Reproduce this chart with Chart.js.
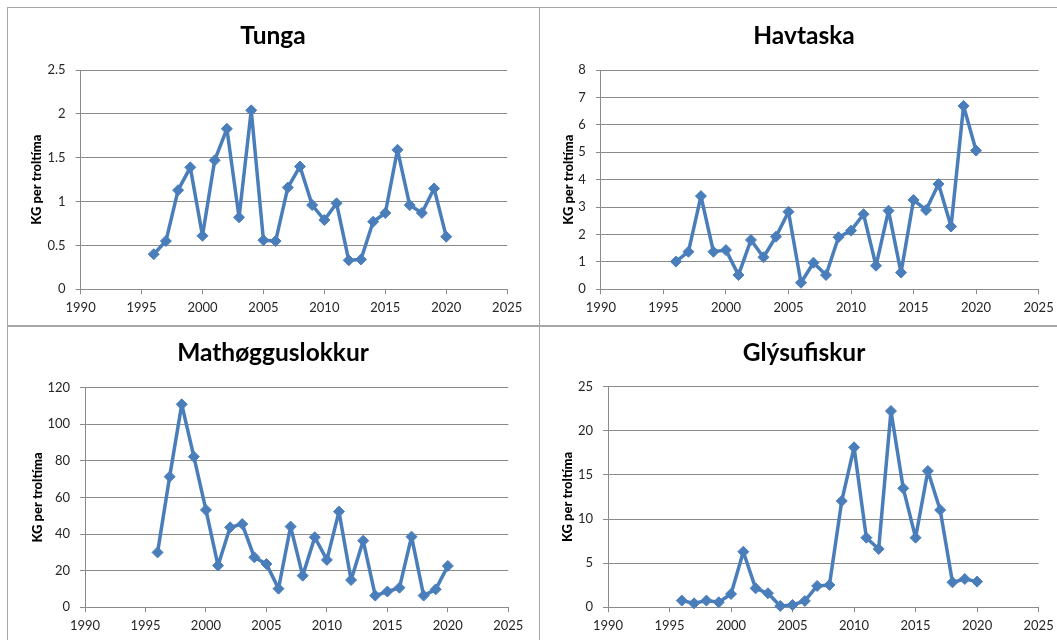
<!DOCTYPE html>
<html>
  <head>
    <meta charset="utf-8">
    <script src="https://cdn.jsdelivr.net/npm/chart.js@4.4.0/dist/chart.umd.min.js"></script>
    <style>
      html, body { margin: 0; padding: 0; background: #fff; overflow: hidden; width: 1057px; height: 640px; }
      .frame { position: absolute; box-sizing: border-box; border: 1.5px solid #a6a6a6; }
      canvas { position: absolute; }
    </style>
  </head>
  <body>
    <div class="frame" style="left:7px; top:7px; width:533px; height:320px;"></div>
    <div class="frame" style="left:539px; top:7px; width:530px; height:320px;"></div>
    <div class="frame" style="left:7px; top:325px; width:533px; height:330px;"></div>
    <div class="frame" style="left:539px; top:325px; width:530px; height:330px;"></div>

    <canvas id="tunga" width="530" height="316" style="left:8px; top:9px;"></canvas>
    <canvas id="havtaska" width="528" height="316" style="left:540px; top:9px;"></canvas>
    <canvas id="mathogg" width="530" height="313" style="left:8px; top:327px;"></canvas>
    <canvas id="glysu" width="528" height="313" style="left:540px; top:327px;"></canvas>

    <script>
      // years on the x axis
      var years = [1996, 1997, 1998, 1999, 2000, 2001, 2002, 2003, 2004, 2005, 2006, 2007, 2008,
                   2009, 2010, 2011, 2012, 2013, 2014, 2015, 2016, 2017, 2018, 2019, 2020];
      var yearTicks = [1990, 1995, 2000, 2005, 2010, 2015, 2020, 2025];

      // KG per troltíma
      var tunga = [0.40, 0.55, 1.13, 1.39, 0.61, 1.47, 1.83, 0.82, 2.04, 0.56, 0.55, 1.16, 1.40,
                   0.96, 0.79, 0.98, 0.33, 0.34, 0.77, 0.87, 1.59, 0.96, 0.87, 1.15, 0.60];
      var havtaska = [1.01, 1.37, 3.40, 1.37, 1.43, 0.52, 1.80, 1.17, 1.92, 2.83, 0.24, 0.97, 0.52,
                      1.90, 2.14, 2.74, 0.86, 2.87, 0.61, 3.26, 2.89, 3.84, 2.29, 6.69, 5.06];
      var mathogguslokkur = [30.0, 71.4, 110.9, 82.3, 53.2, 22.8, 43.7, 45.5, 27.3, 23.7, 10.2, 44.1, 17.3,
                             38.3, 25.9, 52.3, 14.9, 36.4, 6.4, 8.6, 10.7, 38.6, 6.4, 9.8, 22.6];
      var glysufiskur = [0.76, 0.45, 0.76, 0.57, 1.51, 6.3, 2.15, 1.59, 0.15, 0.26, 0.72, 2.42, 2.53,
                         12.05, 18.13, 7.89, 6.61, 22.24, 13.48, 7.89, 15.45, 11.03, 2.83, 3.21, 2.91];

      var lineColor = "#4a7ebb";
      var gridColor = "#8a8a8a";
      var textColor = "#262626";

      function makeChart(id, title, values, yMax, yStep, geo) {
        var points = [];
        for (var i = 0; i < years.length; i++) {
          points.push({ x: years[i], y: values[i] });
        }
        // same padding on both sides so the title centres on the whole panel
        var side = geo.padRight;
        return new Chart(document.getElementById(id), {
          type: "line",
          data: {
            datasets: [{
              data: points,
              borderColor: lineColor,
              backgroundColor: lineColor,
              borderWidth: 3.5,
              borderJoinStyle: "round",
              borderCapStyle: "round",
              tension: 0,
              pointStyle: "rectRot",
              pointRadius: 5.5,
              pointHoverRadius: 5.5,
              pointBorderWidth: 1,
              clip: false
            }]
          },
          options: {
            responsive: false,
            animation: false,
            layout: { padding: { left: side, right: side, top: 0, bottom: 0 } },
            plugins: {
              legend: { display: false },
              tooltip: { enabled: false },
              title: {
                display: true,
                text: title,
                color: "#000",
                font: { family: "Lato", size: 24.5, weight: "bold" },
                padding: { top: geo.titleTop, bottom: geo.titleBottom }
              }
            },
            scales: {
              x: {
                type: "linear",
                min: yearTicks[0],
                max: yearTicks[yearTicks.length - 1],
                afterFit: function (scale) { scale.height = geo.xHeight; },
                ticks: {
                  stepSize: 5,
                  color: textColor,
                  font: { family: "Lato", size: 13 },
                  padding: 6,
                  maxRotation: 0,
                  callback: function (v) { return String(v); }
                },
                grid: { drawOnChartArea: false, drawTicks: true, tickLength: 5, color: gridColor },
                border: { color: gridColor, width: 1 }
              },
              y: {
                min: 0,
                max: yMax,
                afterFit: function (scale) { scale.width = geo.yWidth - side; },
                ticks: {
                  stepSize: yStep,
                  color: textColor,
                  font: { family: "Lato", size: 13 },
                  padding: 10,
                  callback: function (v) { return String(+v.toFixed(2)); }
                },
                grid: { color: gridColor, lineWidth: 1, tickLength: 5 },
                border: { color: gridColor, width: 1 },
                title: {
                  display: true,
                  text: "KG per troltíma",
                  color: "#000",
                  font: { family: "Lato", size: 13, weight: 900 },
                  padding: { top: geo.yTitlePad - side, bottom: 0 }
                }
              }
            }
          }
        });
      }

      makeChart("tunga", "Tunga", tunga, 2.5, 0.5,
        { yWidth: 72.6, padRight: 30.8, xHeight: 35.7, titleTop: 12.3, titleBottom: 19.3, yTitlePad: 21 });
      makeChart("havtaska", "Havtaska", havtaska, 8, 1,
        { yWidth: 60.9, padRight: 29.4, xHeight: 35.7, titleTop: 12.3, titleBottom: 19.3, yTitlePad: 21 });
      makeChart("mathogg", "Mathøgguslokkur", mathogguslokkur, 120, 20,
        { yWidth: 77, padRight: 29.7, xHeight: 32.7, titleTop: 11.3, titleBottom: 20, yTitlePad: 22.5 });
      makeChart("glysu", "Glýsufiskur", glysufiskur, 25, 5,
        { yWidth: 68, padRight: 29.4, xHeight: 32.7, titleTop: 11.3, titleBottom: 19, yTitlePad: 20 });
    </script>
  </body>
</html>
